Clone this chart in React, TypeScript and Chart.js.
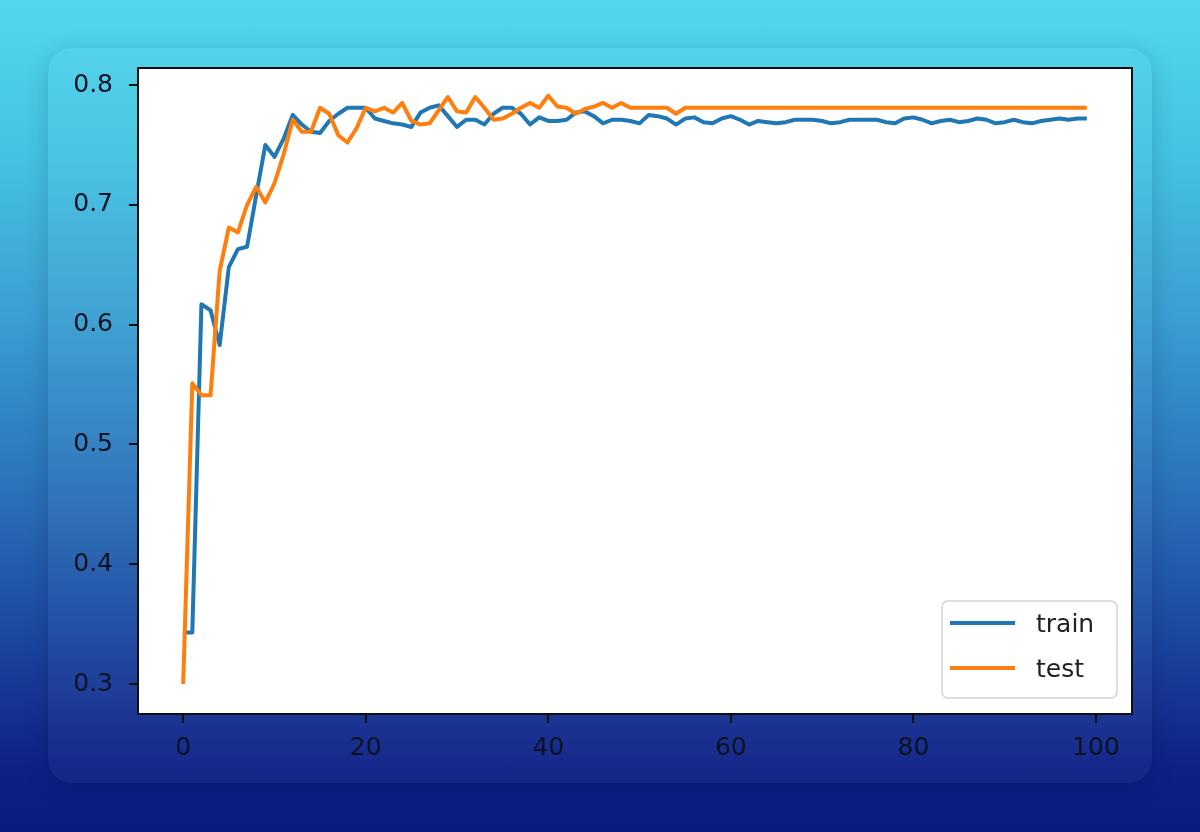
import React, { useEffect, useRef } from "react";
import { Chart, registerables } from "chart.js";

Chart.register(...registerables);

// ---- data ----
const epochs: number[] = Array.from({ length: 100 }, (_, i) => i);

const trainAcc: number[] = [
  0.343, 0.343, 0.617, 0.612, 0.583, 0.648, 0.663, 0.665, 0.708, 0.750,
  0.740, 0.755, 0.775, 0.767, 0.761, 0.760, 0.770, 0.776, 0.781, 0.781,
  0.781, 0.772, 0.770, 0.768, 0.767, 0.765, 0.777, 0.781, 0.783, 0.774,
  0.765, 0.771, 0.771, 0.767, 0.776, 0.781, 0.781, 0.776, 0.767, 0.773,
  0.770, 0.770, 0.771, 0.777, 0.778, 0.774, 0.768, 0.771, 0.771, 0.770,
  0.768, 0.775, 0.774, 0.772, 0.767, 0.772, 0.773, 0.769, 0.768, 0.772,
  0.774, 0.771, 0.767, 0.770, 0.769, 0.768, 0.769, 0.771, 0.771, 0.771,
  0.770, 0.768, 0.769, 0.771, 0.771, 0.771, 0.771, 0.769, 0.768, 0.772,
  0.773, 0.771, 0.768, 0.770, 0.771, 0.769, 0.770, 0.772, 0.771, 0.768,
  0.769, 0.771, 0.769, 0.768, 0.770, 0.771, 0.772, 0.771, 0.772, 0.772,
];

const testAcc: number[] = [
  0.300, 0.551, 0.541, 0.541, 0.645, 0.681, 0.677, 0.700, 0.715, 0.702,
  0.718, 0.742, 0.771, 0.761, 0.761, 0.781, 0.776, 0.758, 0.752, 0.764,
  0.781, 0.778, 0.781, 0.777, 0.785, 0.770, 0.767, 0.768, 0.779, 0.790,
  0.778, 0.777, 0.790, 0.781, 0.771, 0.772, 0.776, 0.781, 0.785, 0.781,
  0.791, 0.782, 0.781, 0.776, 0.780, 0.782, 0.785, 0.781, 0.785, 0.781,
  0.781, 0.781, 0.781, 0.781, 0.776, 0.781, 0.781, 0.781, 0.781, 0.781,
  0.781, 0.781, 0.781, 0.781, 0.781, 0.781, 0.781, 0.781, 0.781, 0.781,
  0.781, 0.781, 0.781, 0.781, 0.781, 0.781, 0.781, 0.781, 0.781, 0.781,
  0.781, 0.781, 0.781, 0.781, 0.781, 0.781, 0.781, 0.781, 0.781, 0.781,
  0.781, 0.781, 0.781, 0.781, 0.781, 0.781, 0.781, 0.781, 0.781, 0.781,
];

const seriesLabels: string[] = ["train", "test"];
const xTicks: number[] = [0, 20, 40, 60, 80, 100];
const yTicks: number[] = [0.3, 0.4, 0.5, 0.6, 0.7, 0.8];

const FONT = "'DejaVu Sans', sans-serif";
const TICK_COLOR = "#0b1322";

const plotBackground = {
  id: "plotBackground",
  beforeDraw(chart: any) {
    const { ctx, chartArea } = chart;
    ctx.save();
    ctx.fillStyle = "#ffffff";
    ctx.fillRect(chartArea.left, chartArea.top, chartArea.right - chartArea.left, chartArea.bottom - chartArea.top);
    ctx.restore();
  },
};

const frame = {
  id: "frame",
  afterDatasetsDraw(chart: any) {
    const { ctx, chartArea } = chart;
    ctx.save();
    ctx.strokeStyle = "#111111";
    ctx.lineWidth = 2;
    ctx.strokeRect(chartArea.left, chartArea.top, chartArea.right - chartArea.left, chartArea.bottom - chartArea.top);
    ctx.restore();
  },
};

const innerLegend = {
  id: "innerLegend",
  afterDraw(chart: any) {
    const { ctx, chartArea } = chart;
    const boxW = 175;
    const boxH = 97;
    const x1 = chartArea.right - 15;
    const y1 = chartArea.bottom - 16;
    const x0 = x1 - boxW;
    const y0 = y1 - boxH;
    ctx.save();
    ctx.beginPath();
    ctx.roundRect(x0, y0, boxW, boxH, 6);
    ctx.fillStyle = "rgba(255,255,255,0.85)";
    ctx.fill();
    ctx.strokeStyle = "#d4d4d4";
    ctx.lineWidth = 1.5;
    ctx.stroke();
    chart.data.datasets.forEach((ds: any, i: number) => {
      const cy = y0 + 22 + i * 45;
      ctx.beginPath();
      ctx.moveTo(x0 + 8, cy);
      ctx.lineTo(x0 + 73, cy);
      ctx.strokeStyle = ds.borderColor;
      ctx.lineWidth = 4;
      ctx.stroke();
      ctx.fillStyle = "#222222";
      ctx.font = `25px ${FONT}`;
      ctx.textBaseline = "middle";
      ctx.textAlign = "left";
      ctx.fillText(ds.label, x0 + 94, cy + 2);
    });
    ctx.restore();
  },
};

export default function App() {
  const canvasRef = useRef<HTMLCanvasElement | null>(null);

  useEffect(() => {
    if (!canvasRef.current) return;
    const chart = new Chart(canvasRef.current, {
      type: "line",
      data: {
        datasets: [
          {
            label: seriesLabels[0],
            data: epochs.map((e, i) => ({ x: e, y: trainAcc[i] })),
            borderColor: "#1f77b4",
            backgroundColor: "#1f77b4",
            borderWidth: 4,
            pointRadius: 0,
            tension: 0,
            borderJoinStyle: "round",
            order: 2,
          },
          {
            label: seriesLabels[1],
            data: epochs.map((e, i) => ({ x: e, y: testAcc[i] })),
            borderColor: "#ff7f0e",
            backgroundColor: "#ff7f0e",
            borderWidth: 4,
            pointRadius: 0,
            tension: 0,
            borderJoinStyle: "round",
            order: 1,
          },
        ],
      },
      options: {
        responsive: false,
        animation: false,
        devicePixelRatio: 1,
        layout: { padding: { left: 68, right: 68, top: 68, bottom: 68 } },
        plugins: {
          legend: { display: false },
          tooltip: { enabled: false },
        },
        scales: {
          x: {
            type: "linear",
            min: -4.95,
            max: 103.95,
            afterBuildTicks: (scale: any) => {
              scale.ticks = xTicks.map((v) => ({ value: v }));
            },
            afterFit: (scale: any) => {
              scale.height = 50;
            },
            grid: {
              drawOnChartArea: false,
              drawTicks: true,
              tickLength: 9,
              color: "#111111",
              lineWidth: 2,
            },
            border: { display: false },
            ticks: {
              color: TICK_COLOR,
              font: { family: FONT, size: 25 },
              padding: 10,
              maxRotation: 0,
              autoSkip: false,
              callback: (v: any) => String(v),
            },
          },
          y: {
            type: "linear",
            min: 0.275,
            max: 0.8142,
            afterBuildTicks: (scale: any) => {
              scale.ticks = yTicks.map((v) => ({ value: v }));
            },
            afterFit: (scale: any) => {
              scale.width = 70;
            },
            grid: {
              drawOnChartArea: false,
              drawTicks: true,
              tickLength: 9,
              color: "#111111",
              lineWidth: 2,
            },
            border: { display: false },
            ticks: {
              color: TICK_COLOR,
              font: { family: FONT, size: 25 },
              padding: 16,
              autoSkip: false,
              callback: (v: any) => Number(v).toFixed(1),
            },
          },
        },
      },
      plugins: [plotBackground, frame, innerLegend],
    } as any);
    return () => chart.destroy();
  }, []);

  return (
    <div
      style={{
        position: "fixed",
        inset: 0,
        width: 1200,
        height: 832,
        overflow: "hidden",
        background:
          "linear-gradient(180deg, #51d8ec 0%, #45c3e4 18%, #3a9fd2 38%, #2b74bb 58%, #1c48a0 76%, #0e2187 92%, #0b1a80 100%)",
      }}
    >
      <div
        style={{
          position: "absolute",
          left: 48,
          top: 48,
          width: 1104,
          height: 735,
          borderRadius: 24,
          background: "rgba(255,255,255,0.035)",
          boxShadow: "0 6px 24px rgba(0,0,40,0.18)",
        }}
      />
      <canvas
        ref={canvasRef}
        width={1200}
        height={832}
        style={{ position: "absolute", left: 0, top: 0, width: 1200, height: 832, display: "block" }}
      />
    </div>
  );
}
